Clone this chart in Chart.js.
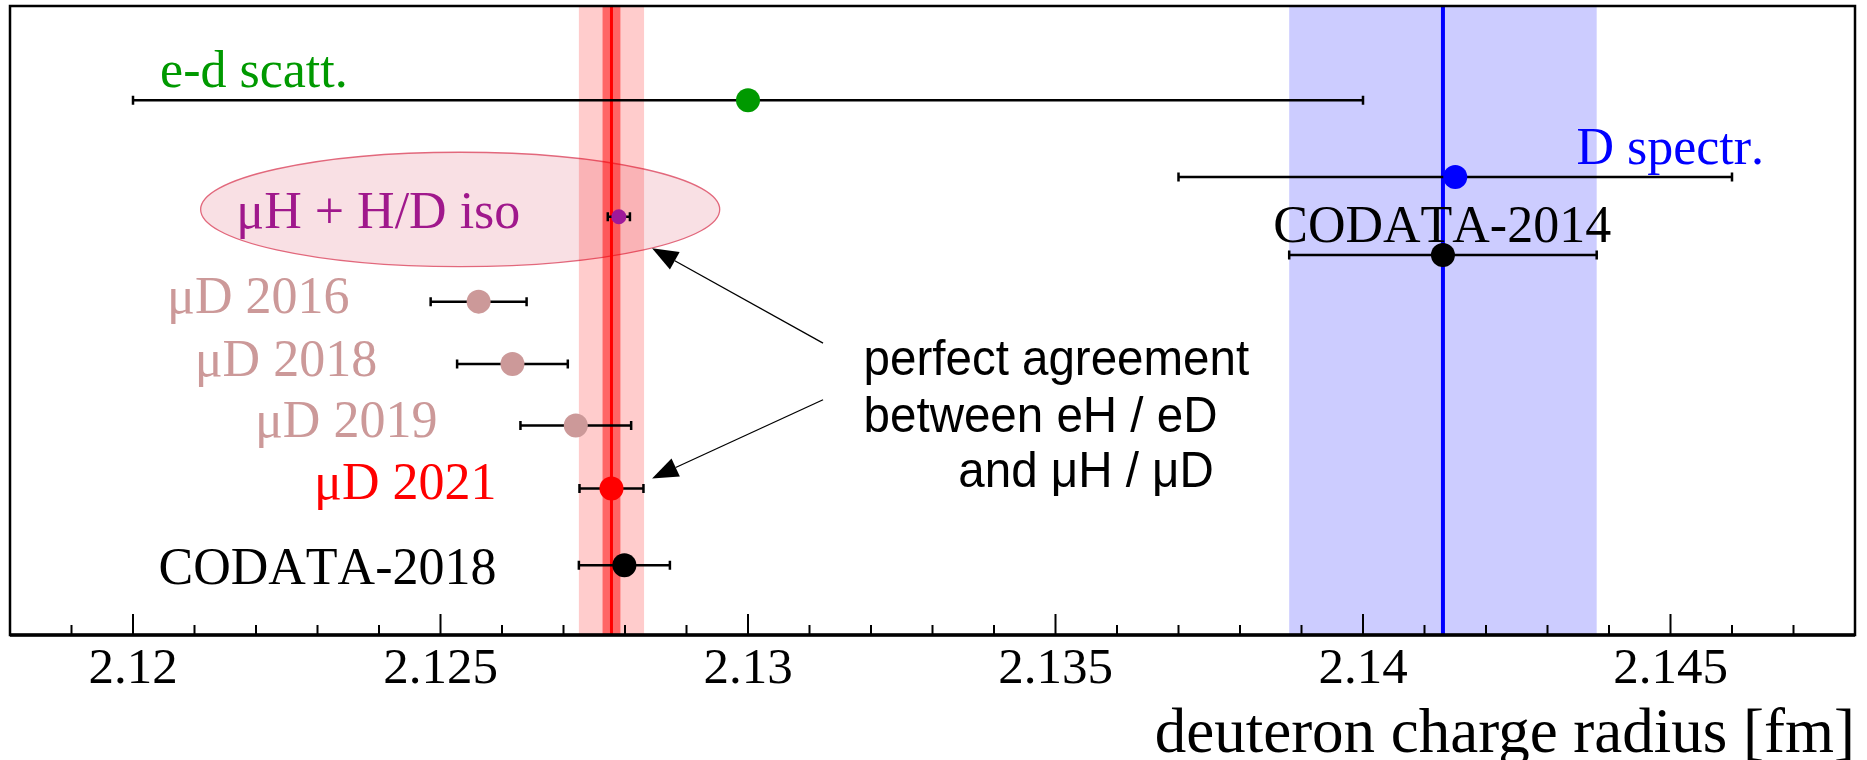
<!DOCTYPE html>
<html>
<head>
<meta charset="utf-8">
<script src="https://cdn.jsdelivr.net/npm/chart.js@4"></script>
<style>
  html, body { margin: 0; padding: 0; background: #fff; }
</style>
</head>
<body>
<canvas id="c" width="1867" height="760"></canvas>
<script>
// measurements: deuteron charge radius [fm] and its uncertainty
var names  = ['e-d scatt.', 'D spectr.', 'μH + H/D iso', 'CODATA-2014', 'μD 2016', 'μD 2018', 'μD 2019', 'μD 2021', 'CODATA-2018'];
var radius = [2.130, 2.1415, 2.1279, 2.1413, 2.12562, 2.12617, 2.1272, 2.12778, 2.12799];
var errors = [0.010, 0.0045, 0.00018, 0.0025, 0.00078, 0.0009, 0.0009, 0.00052, 0.00074];
// vertical slot of each measurement (hidden axis, 0 = bottom, 10 = top)
var rows   = [8.5, 7.28, 6.65, 6.04, 5.30, 4.31, 3.33, 2.33, 1.11];

// bands: muD 2021 (red) and CODATA-2014 (blue)
var bandCenter = [2.12778, 2.1413];
var bandOuter  = [0.00053, 0.0025];
var bandInner  = [0.000145, 0];

// x axis
var xMin = 2.118, xMax = 2.148, xStep = 0.001, xMajor = 0.005;
var xTitle = 'deuteron charge radius [fm]';

// label anchors, in axis units
var labelX     = [2.12044, 2.14347, 2.12168, 2.13854, 2.12352, 2.12397, 2.12495, 2.12591, 2.12591];
var labelRow   = [8.71, 7.49, 6.47, 6.25, 5.12, 4.11, 3.15, 2.16, 0.81];
var labelAlign = ['left', 'left', 'left', 'left', 'right', 'right', 'right', 'right', 'right'];

var noteLines = ['perfect agreement', 'between eH / eD', 'and μH / μD'];
var noteX     = [2.13188, 2.13188, 2.13342];
var noteRow   = [4.13, 3.23, 2.35];
// arrows: [tailX, tailRow, tipX, tipRow]
var arrows = [[2.13122, 4.64, 2.12844, 6.15], [2.13122, 3.74, 2.12844, 2.49]];

// ellipse round the muH label
var ellipseX = 2.12532, ellipseRow = 6.765, ellipseHalfW = 0.00422, ellipseHalfH = 0.91;

var pointColors = ['#009900', '#0000ff', '#a0189a', '#000000', '#cc9999', '#cc9999', '#cc9999', '#ff0000', '#000000'];
var labelColors = ['#009900', '#0000ff', '#a0188c', '#000000', '#cc9999', '#cc9999', '#cc9999', '#ff0000', '#000000'];
var pointSizes  = [12, 12, 7.5, 12, 12, 12, 12, 12, 12];

function isMajor(v) {
  return Math.abs(v / xMajor - Math.round(v / xMajor)) < 1e-6;
}

var decor = {
  id: 'decor',
  beforeDatasetsDraw: function(chart) {
    var ctx = chart.ctx, xs = chart.scales.x, ys = chart.scales.y, a = chart.chartArea;
    ctx.save();
    // ellipse
    var cx = xs.getPixelForValue(ellipseX), cy = ys.getPixelForValue(ellipseRow);
    var rx = xs.getPixelForValue(ellipseX + ellipseHalfW) - cx;
    var ry = cy - ys.getPixelForValue(ellipseRow + ellipseHalfH);
    ctx.beginPath();
    ctx.ellipse(cx, cy, rx, ry, 0, 0, 2 * Math.PI);
    ctx.fillStyle = '#f9e0e4';
    ctx.fill();
    ctx.lineWidth = 1.3;
    ctx.strokeStyle = '#e2687c';
    ctx.stroke();

    // bands
    var bandRgb = ['255,0,0', '0,0,255'];
    for (var i = 0; i < bandCenter.length; i++) {
      var l = xs.getPixelForValue(bandCenter[i] - bandOuter[i]);
      var r = xs.getPixelForValue(bandCenter[i] + bandOuter[i]);
      ctx.fillStyle = 'rgba(' + bandRgb[i] + ',0.2)';
      ctx.fillRect(l, a.top, r - l, a.bottom - a.top);
      if (bandInner[i] > 0) {
        l = xs.getPixelForValue(bandCenter[i] - bandInner[i]);
        r = xs.getPixelForValue(bandCenter[i] + bandInner[i]);
        ctx.fillStyle = 'rgba(' + bandRgb[i] + ',0.5)';
        ctx.fillRect(l, a.top, r - l, a.bottom - a.top);
      }
      var c = xs.getPixelForValue(bandCenter[i]);
      ctx.beginPath();
      ctx.moveTo(c, a.top);
      ctx.lineTo(c, a.bottom);
      ctx.lineWidth = i === 0 ? 3 : 4;
      ctx.strokeStyle = 'rgb(' + bandRgb[i] + ')';
      ctx.stroke();
    }

    // error bars
    ctx.strokeStyle = '#000';
    ctx.lineWidth = 2.5;
    for (var k = 0; k < radius.length; k++) {
      var y = ys.getPixelForValue(rows[k]);
      var x0 = xs.getPixelForValue(radius[k] - errors[k]);
      var x1 = xs.getPixelForValue(radius[k] + errors[k]);
      ctx.beginPath();
      ctx.moveTo(x0, y); ctx.lineTo(x1, y);
      ctx.moveTo(x0, y - 4.5); ctx.lineTo(x0, y + 4.5);
      ctx.moveTo(x1, y - 4.5); ctx.lineTo(x1, y + 4.5);
      ctx.stroke();
    }
    ctx.restore();
  },
  afterDatasetsDraw: function(chart) {
    var ctx = chart.ctx, xs = chart.scales.x, ys = chart.scales.y, a = chart.chartArea;
    ctx.save();
    ctx.textBaseline = 'alphabetic';
    // measurement labels
    ctx.font = '52px "Liberation Serif"';
    ctx.fontKerning = 'none';
    for (var i = 0; i < names.length; i++) {
      ctx.fillStyle = labelColors[i];
      ctx.textAlign = labelAlign[i];
      ctx.fillText(names[i], xs.getPixelForValue(labelX[i]), ys.getPixelForValue(labelRow[i]));
    }
    // note text
    ctx.fillStyle = '#000';
    ctx.textAlign = 'left';
    ctx.font = '50px "Liberation Sans"';
    for (var j = 0; j < noteLines.length; j++) {
      ctx.save();
      ctx.translate(xs.getPixelForValue(noteX[j]), ys.getPixelForValue(noteRow[j]));
      ctx.scale(0.95, 1);
      ctx.fillText(noteLines[j], 0, 0);
      ctx.restore();
    }
    // arrows
    ctx.strokeStyle = '#000';
    ctx.lineWidth = 1.3;
    arrows.forEach(function(ar) {
      var tx = xs.getPixelForValue(ar[0]), ty = ys.getPixelForValue(ar[1]);
      var hx = xs.getPixelForValue(ar[2]), hy = ys.getPixelForValue(ar[3]);
      var ang = Math.atan2(hy - ty, hx - tx);
      var len = 26, half = 10;
      var bx = hx - len * Math.cos(ang), by = hy - len * Math.sin(ang);
      ctx.beginPath();
      ctx.moveTo(tx, ty); ctx.lineTo(bx, by);
      ctx.stroke();
      ctx.beginPath();
      ctx.moveTo(hx, hy);
      ctx.lineTo(bx + half * Math.sin(ang), by - half * Math.cos(ang));
      ctx.lineTo(bx - half * Math.sin(ang), by + half * Math.cos(ang));
      ctx.closePath();
      ctx.fillStyle = '#000';
      ctx.fill();
    });
    // frame
    ctx.lineWidth = 2.5;
    ctx.strokeRect(a.left, a.top, a.right - a.left, a.bottom - a.top);
    ctx.beginPath();
    ctx.lineWidth = 3.5;
    ctx.moveTo(a.left, a.bottom); ctx.lineTo(a.right, a.bottom);
    ctx.stroke();
    // inward ticks
    ctx.lineWidth = 2;
    xs.ticks.forEach(function(t) {
      var px = xs.getPixelForValue(t.value);
      if (px < a.left + 3 || px > a.right - 3) return;
      var h = isMajor(t.value) ? 21 : 10;
      ctx.beginPath();
      ctx.moveTo(px, a.bottom); ctx.lineTo(px, a.bottom - h);
      ctx.stroke();
    });
    ctx.restore();
  }
};

var ctx = document.getElementById('c').getContext('2d');
var chart = new Chart(ctx, {
  type: 'scatter',
  data: {
    datasets: [{
      data: rows.map(function(r, i) { return { x: radius[i], y: r }; }),
      pointRadius: pointSizes,
      pointHoverRadius: pointSizes,
      pointBackgroundColor: pointColors,
      pointBorderWidth: 0,
      showLine: false
    }]
  },
  options: {
    responsive: false,
    animation: false,
    devicePixelRatio: 1,
    layout: { autoPadding: false, padding: { left: 10, top: 6, right: 12, bottom: 0 } },
    plugins: { legend: { display: false }, tooltip: { enabled: false } },
    scales: {
      x: {
        type: 'linear',
        position: 'bottom',
        min: xMin,
        max: xMax,
        grid: { display: false },
        border: { display: false },
        ticks: {
          stepSize: xStep,
          maxTicksLimit: 100,
          autoSkip: false,
          maxRotation: 0,
          padding: 1,
          color: '#000',
          font: { family: 'Liberation Serif', size: 51, lineHeight: 1 },
          callback: function(v) {
            return isMajor(v) ? String(parseFloat(v.toFixed(3))) : '';
          }
        },
        title: {
          display: true,
          text: xTitle,
          align: 'end',
          color: '#000',
          font: { family: 'Liberation Serif', size: 63, lineHeight: 0.7 },
          padding: { top: 0, bottom: 2 }
        },
        afterFit: function(s) { s.height = 125; }
      },
      y: { type: 'linear', min: 0, max: 10, display: false }
    }
  },
  plugins: [decor]
});
</script>
</body>
</html>
